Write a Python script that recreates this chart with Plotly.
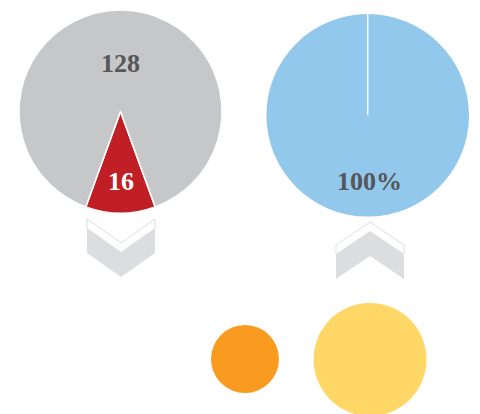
import plotly.graph_objects as go

W, H = 480, 414

# Left pie: highlighted share vs remainder
left_labels = ["selected", "other"]
left_values = [16, 128]
left_colors = ["#c01f26", "#c6c7c9"]

# Right pie: a single full share
right_labels = ["all"]
right_values = [100]
right_colors = ["#92c8eb"]

# Bubbles along the bottom (diameters in px)
bubble_names = ["small", "large"]
bubble_sizes = [68, 113]
bubble_colors = ["#f89b20", "#fed766"]

TEXT_GRAY = "#555658"
CHEVRON_GRAY = "#dcddde"
FONT = "Liberation Serif"


def paper_dom(x0, x1, y0, y1):
    return dict(x=[x0 / W, x1 / W], y=[1 - y1 / H, 1 - y0 / H])


fig = go.Figure()

# left pie centred at (120.5, 111.5), r ~101.5
lcx, lcy, lr = 120.5, 111.5, 101.5
fig.add_trace(go.Pie(
    labels=left_labels, values=left_values, sort=False, direction="clockwise",
    rotation=180 - 180 * left_values[0] / sum(left_values),
    marker=dict(colors=left_colors, line=dict(color="white", width=1.5)),
    textinfo="none", hoverinfo="label+value", showlegend=False,
    domain=paper_dom(lcx - lr, lcx + lr, lcy - lr, lcy + lr),
))

# right pie centred at (367.7, 115.3), r ~101.3
rcx, rcy, rr = 367.7, 115.3, 101.3
fig.add_trace(go.Pie(
    labels=right_labels, values=right_values, sort=False,
    marker=dict(colors=right_colors, line=dict(width=0)),
    textinfo="none", hoverinfo="label+value", showlegend=False,
    domain=paper_dom(rcx - rr, rcx + rr, rcy - rr, rcy + rr),
))

# bubbles
fig.add_trace(go.Scatter(
    x=[245, 370], y=[359, 359.5], mode="markers", text=bubble_names,
    marker=dict(size=bubble_sizes, sizemode="diameter", color=bubble_colors,
                opacity=1, line=dict(width=0)),
    hoverinfo="text", showlegend=False,
))

shapes = []

# seam line on the full right pie
shapes.append(dict(type="line", x0=rcx, y0=rcy, x1=rcx, y1=rcy - rr,
                   line=dict(color="white", width=1.5), layer="above"))


def chevron(cx, top, half_w, depth, thick, gap, down=True):
    """Filled chevron with a thin outline echo on its open side."""
    x0, x1 = cx - half_w, cx + half_w
    out = []
    oy = top
    fy = top + gap
    if down:
        out.append(dict(type="path",
                        path=f"M{x0},{fy} L{x0},{oy} L{cx},{oy + depth} L{x1},{oy} L{x1},{fy}",
                        line=dict(color=CHEVRON_GRAY, width=1), fillcolor="rgba(0,0,0,0)"))
        out.append(dict(type="path",
                        path=(f"M{x0},{fy} L{cx},{fy + depth} L{x1},{fy} L{x1},{fy + thick} "
                              f"L{cx},{fy + thick + depth} L{x0},{fy + thick} Z"),
                        line=dict(width=0), fillcolor=CHEVRON_GRAY))
    else:
        out.append(dict(type="path",
                        path=f"M{x0},{fy + depth} L{x0},{oy + depth} L{cx},{oy} L{x1},{oy + depth} L{x1},{fy + depth}",
                        line=dict(color=CHEVRON_GRAY, width=1), fillcolor="rgba(0,0,0,0)"))
        out.append(dict(type="path",
                        path=(f"M{x0},{fy + depth} L{cx},{fy} L{x1},{fy + depth} L{x1},{fy + depth + thick} "
                              f"L{cx},{fy + thick} L{x0},{fy + depth + thick} Z"),
                        line=dict(width=0), fillcolor=CHEVRON_GRAY))
    return out


shapes += chevron(121, 219, 34, 24, 25, 9, down=True)
shapes += chevron(370, 222, 34, 23, 25, 9, down=False)

annotations = [
    dict(x=lcx, y=63, text=str(left_values[1]), showarrow=False,
         font=dict(family=FONT, size=26, color=TEXT_GRAY), xanchor="center", yanchor="middle"),
    dict(x=lcx, y=181, text=str(left_values[0]), showarrow=False,
         font=dict(family=FONT, size=26, color="white"), xanchor="center", yanchor="middle"),
    dict(x=369, y=181, text=f"{right_values[0]}%", showarrow=False,
         font=dict(family=FONT, size=26, color=TEXT_GRAY), xanchor="center", yanchor="middle"),
]
for a in annotations:
    a["text"] = f"<b>{a['text']}</b>"

fig.update_layout(
    width=W, height=H, margin=dict(l=0, r=0, t=0, b=0),
    paper_bgcolor="white", plot_bgcolor="rgba(0,0,0,0)",
    xaxis=dict(range=[0, W], visible=False, fixedrange=True),
    yaxis=dict(range=[H, 0], visible=False, fixedrange=True),
    shapes=shapes, annotations=annotations,
)

fig.write_html("out.html", config={"displayModeBar": False})
